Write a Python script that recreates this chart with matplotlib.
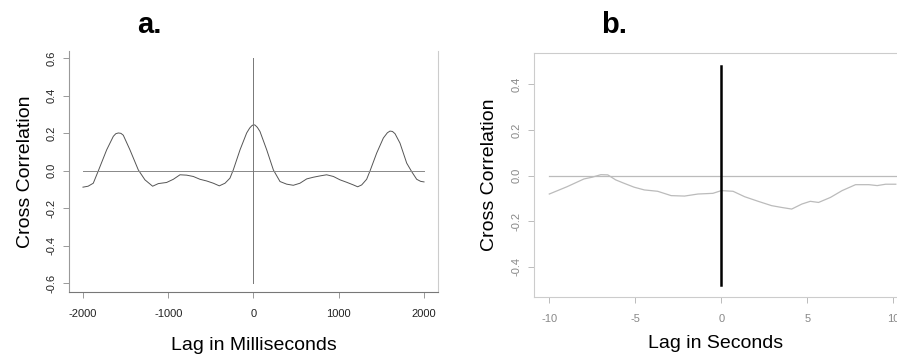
import matplotlib
matplotlib.use('Agg')
import matplotlib.pyplot as plt
import numpy as np

plt.rcParams['font.family'] = ['Liberation Sans', 'DejaVu Sans']

# panel a: lag in ms vs cross correlation
lag_a = [-2000, -1940, -1879, -1820, -1722, -1644, -1615, -1585, -1555, -1527, -1449, -1351, -1273,
         -1183, -1116, -1019, -940, -862, -784, -706, -628, -549, -471,
         -401, -334, -276, -237, -158, -80, -45, -21, 0, 18, 45, 76, 155,
         233, 311, 389, 467, 545, 624, 702, 780, 858, 937,
         1015, 1093, 1171, 1222, 1269, 1327, 1367, 1445, 1523, 1570, 1601, 1630,
         1660, 1718, 1797, 1855, 1914, 1960, 2000]
cc_a = [-0.087, -0.082, -0.066, 0.0, 0.112, 0.184, 0.198, 0.202, 0.200, 0.190, 0.112, 0.005, -0.048,
        -0.082, -0.068, -0.062, -0.045, -0.021, -0.023, -0.030, -0.045, -0.054, -0.066,
        -0.080, -0.066, -0.039, 0.005, 0.112, 0.202, 0.228, 0.240, 0.246, 0.244, 0.232, 0.21, 0.112,
        0.005, -0.057, -0.071, -0.077, -0.066, -0.043, -0.034, -0.027, -0.021, -0.030,
        -0.048, -0.061, -0.075, -0.085, -0.075, -0.045, 0.0, 0.095, 0.175, 0.203, 0.212, 0.210,
        0.198, 0.148, 0.041, -0.004, -0.045, -0.056, -0.059]

# panel b: lag in seconds
lag_b = [-10, -8.97, -7.99, -7.5, -7.0, -6.6, -6.14, -5.65, -5.07, -4.48,
         -3.70, -2.92, -2.14, -1.36, -0.49, 0.0, 0.68, 1.36, 2.14, 2.92,
         3.51, 4.09, 4.68, 5.17, 5.65, 6.34, 7.02, 7.80, 8.58, 9.06,
         9.55, 10.14]
cc_b = [-0.081, -0.049, -0.015, -0.007, 0.004, 0.003, -0.019, -0.034, -0.051, -0.063,
        -0.069, -0.088, -0.090, -0.081, -0.078, -0.066, -0.069, -0.093, -0.113, -0.132,
        -0.140, -0.147, -0.125, -0.113, -0.118, -0.096, -0.066, -0.040, -0.040, -0.044,
        -0.038, -0.038]

xticks_a = [-2000, -1000, 0, 1000, 2000]
yticks_a = [0.6, 0.4, 0.2, 0.0, -0.2, -0.4, -0.6]
xticks_b = [-10, -5, 0, 5, 10]
yticks_b = [0.4, 0.2, 0.0, -0.2, -0.4]

fig = plt.figure(figsize=(8.97, 3.55), dpi=100)

# ---- panel a ----
ax1 = fig.add_axes([0.0769, 0.1775, 0.4114, 0.6788])
ax1.plot(lag_a, cc_a, color='#555555', lw=0.7)
ax1.plot([-2000, 2000], [0, 0], color='#888888', lw=0.7)
ax1.plot([0, 0], [-0.6, 0.6], color='#777777', lw=0.7)
ax1.set_xlim(-2164, 2164)
ax1.set_ylim(-0.646, 0.639)
ax1.set_xticks(xticks_a)
ax1.set_xticklabels([str(t) for t in xticks_a])
ax1.set_yticks(yticks_a)
ax1.set_yticklabels(['%.1f' % t for t in yticks_a], rotation=90, va='center')
ax1.spines['top'].set_visible(False)
ax1.spines['left'].set_color('#999999')
ax1.spines['bottom'].set_color('#777777')
ax1.spines['right'].set_color('#cccccc')
for s in ax1.spines.values():
    s.set_linewidth(0.8)
ax1.tick_params(axis='x', pad=8)
ax1.tick_params(length=4, width=0.7, color='#999999', labelsize=8, labelcolor='#222222')
ax1.tick_params(axis='y', pad=5)
ax1.set_ylabel('Cross Correlation', fontsize=14, labelpad=9)
ax1.set_xlabel('Lag in Milliseconds', fontsize=14, labelpad=13)
fig.text(0.1665, 0.93, 'a.', fontsize=21, fontweight='bold', ha='center', va='center')

# ---- panel b ----
ax2 = fig.add_axes([0.5953, 0.1634, 0.4047, 0.6873])
ax2.plot(lag_b, cc_b, color='#bbbbbb', lw=0.9)
ax2.axhline(0, xmin=(-10 + 10.89) / 21.1, color='#bbbbbb', lw=0.9)
ax2.plot([0, 0], [-0.48, 0.48], color='black', lw=1.8)
ax2.set_xlim(-10.89, 10.21)
ax2.set_ylim(-0.533, 0.538)
ax2.set_xticks(xticks_b)
ax2.set_xticklabels([str(t) for t in xticks_b])
ax2.set_yticks(yticks_b)
ax2.set_yticklabels(['%.1f' % t for t in yticks_b], rotation=90, va='center')
ax2.spines['right'].set_visible(False)
for s in ax2.spines.values():
    s.set_color('#cccccc')
    s.set_linewidth(0.8)
ax2.tick_params(axis='x', pad=8)
ax2.tick_params(length=4, width=0.7, color='#bbbbbb', labelsize=8, labelcolor='#888888')
ax2.tick_params(axis='y', pad=5)
ax2.set_ylabel('Cross Correlation', fontsize=14, labelpad=10)
ax2.set_xlabel('Lag in Seconds', fontsize=14, labelpad=8)
fig.text(0.685, 0.93, 'b.', fontsize=21, fontweight='bold', ha='center', va='center')

fig.savefig('out.png', dpi=100)
